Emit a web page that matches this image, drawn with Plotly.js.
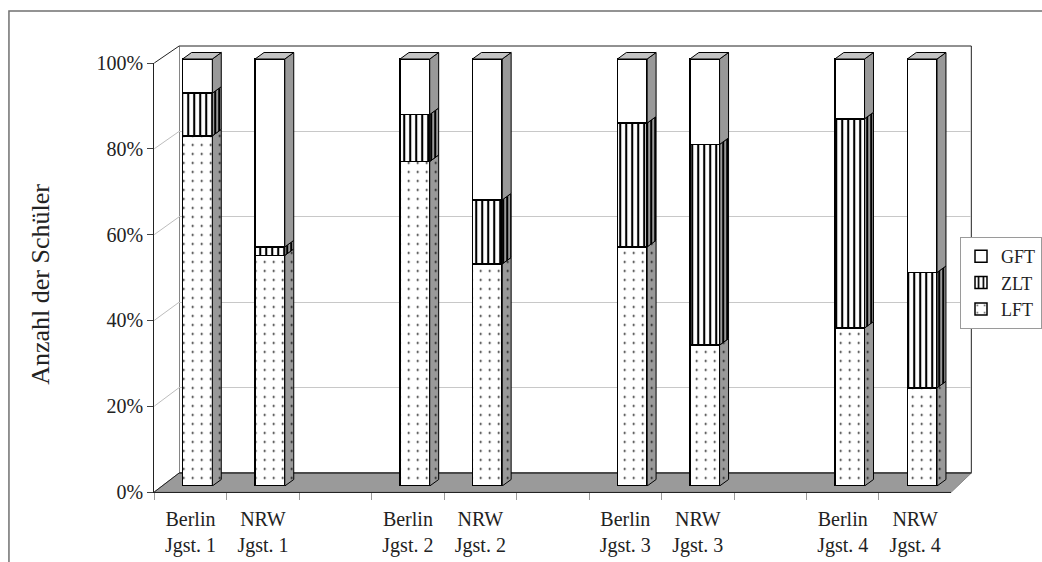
<!DOCTYPE html>
<html><head><meta charset="utf-8">
<script src="https://cdn.plot.ly/plotly-3.0.1.min.js"></script>
<style>html,body{margin:0;padding:0;background:#fff}</style>
</head><body><div id="chart" style="width:1042px;height:562px"></div>
<script>
// ---- data ----
const categories = ['Berlin<br>Jgst. 1','NRW<br>Jgst. 1','Berlin<br>Jgst. 2','NRW<br>Jgst. 2',
                    'Berlin<br>Jgst. 3','NRW<br>Jgst. 3','Berlin<br>Jgst. 4','NRW<br>Jgst. 4'];
const LFT = [82, 54, 76, 52, 56, 33, 37, 23];
const ZLT = [10,  2, 11, 15, 29, 47, 49, 27];
const GFT = [ 8, 44, 13, 33, 15, 20, 14, 50];
const yTicks = [0, 20, 40, 60, 80, 100];
const yTickText = ['0%', '20%', '40%', '60%', '80%', '100%'];

// ---- geometry helpers ----
const W = 1042, H = 562;
const px = x => x / W, py = y => 1 - y / H;
const FONT = 'Liberation Serif, Times New Roman, serif';
const slots = categories.map((_, i) => i + Math.floor(i / 2));
const axisCats = [];
categories.forEach((c, i) => {
  axisCats.push(c);
  if (i % 2 === 1 && i < categories.length - 1) axisCats.push('\u00a0'.repeat((i + 1) / 2));
});
const barW = 0.41;
const dx = 9 / 72.8, dy = 6.5 / 4.27;

const series = [
  {name: 'LFT', vals: LFT,
   pattern: {shape: '.', size: 9, solidity: 0.035, fgcolor: '#000', bgcolor: '#ffffff', fillmode: 'replace'},
   side: {shape: '.', size: 9, solidity: 0.035, fgcolor: '#000', bgcolor: '#999999', fillmode: 'replace'}},
  {name: 'ZLT', vals: ZLT,
   pattern: {shape: '|', size: 6, solidity: 0.35, fgcolor: '#000', bgcolor: '#ffffff', fillmode: 'replace'},
   side: {shape: '|', size: 4, solidity: 0.5, fgcolor: '#000', bgcolor: '#999999', fillmode: 'replace'}},
  {name: 'GFT', vals: GFT, pattern: null, side: null}
];

const traces = [];
// bars (front faces)
series.forEach(s => {
  const m = {color: '#ffffff', line: {color: '#000', width: 1.5}};
  if (s.pattern) m.pattern = s.pattern;
  traces.push({type: 'bar', name: s.name, x: slots, y: s.vals, width: barW,
    marker: m, xaxis: 'x3', yaxis: 'y3', hoverinfo: 'skip'});
});
// side faces
let base = categories.map(() => 0);
series.forEach(s => {
  const xs = [], ys = [];
  s.vals.forEach((v, i) => {
    const xr = slots[i] + barW / 2, y0 = base[i], y1 = base[i] + v;
    xs.push(xr, xr + dx, xr + dx, xr, xr, null);
    ys.push(y0, y0 + dy, y1 + dy, y1, y0, null);
  });
  const t = {type: 'scatter', mode: 'lines', x: xs, y: ys, fill: 'toself',
    fillcolor: '#999999', line: {color: '#000', width: 1}, showlegend: false,
    hoverinfo: 'skip', xaxis: 'x3', yaxis: 'y3'};
  if (s.side) t.fillpattern = s.side;
  traces.push(t);
  base = base.map((b, i) => b + s.vals[i]);
});
// top faces
(function () {
  const xs = [], ys = [];
  base.forEach((top, i) => {
    const xl = slots[i] - barW / 2, xr = slots[i] + barW / 2;
    xs.push(xl, xl + dx, xr + dx, xr, xl, null);
    ys.push(top, top + dy, top + dy, top, top, null);
  });
  traces.push({type: 'scatter', mode: 'lines', x: xs, y: ys, fill: 'toself',
    fillcolor: '#c4c4c4', line: {color: '#000', width: 1}, showlegend: false,
    hoverinfo: 'skip', xaxis: 'x3', yaxis: 'y3'});
})();
// helper traces to register the wall and label subplots
traces.push({type: 'scatter', mode: 'markers', x: [0.5], y: [50], marker: {opacity: 0},
  showlegend: false, hoverinfo: 'skip', xaxis: 'x', yaxis: 'y'});
traces.push({type: 'scatter', mode: 'markers', x: axisCats, y: axisCats.map(() => 0),
  marker: {opacity: 0}, showlegend: false, hoverinfo: 'skip', xaxis: 'x2', yaxis: 'y2'});

// ---- decoration shapes ----
const shapes = [];
// outer frame
shapes.push({type: 'rect', xref: 'paper', yref: 'paper', x0: px(9), y0: py(11), x1: px(1100), y1: py(620),
  line: {color: '#707070', width: 1.5}, fillcolor: 'rgba(0,0,0,0)', layer: 'below'});
// back wall
shapes.push({type: 'rect', xref: 'paper', yref: 'paper', x0: px(180), y0: py(473), x1: px(976), y1: py(46),
  line: {color: '#222', width: 1}, fillcolor: '#ffffff', layer: 'below'});
// left wall
shapes.push({type: 'path', xref: 'paper', yref: 'paper',
  path: `M${px(155)},${py(492)} L${px(180)},${py(473)} L${px(180)},${py(46)} L${px(155)},${py(63)} Z`,
  line: {width: 0}, fillcolor: '#ffffff', layer: 'below'});
// floor
shapes.push({type: 'path', xref: 'paper', yref: 'paper',
  path: `M${px(155)},${py(492)} L${px(956)},${py(492)} L${px(976)},${py(473)} L${px(180)},${py(473)} Z`,
  line: {color: '#888', width: 1}, fillcolor: '#9a9a9a', layer: 'below'});
// left wall grid lines
yTicks.forEach(v => {
  const fy = 492 - 4.29 * v, by = 473 - 4.27 * v;
  const edge = (v === 0 || v === 100);
  shapes.push({type: 'line', xref: 'paper', yref: 'paper', x0: px(155), y0: py(fy), x1: px(180), y1: py(by),
    line: {color: edge ? '#222' : '#bdbdbd', width: 1}, layer: 'below'});
});
// floor back edge
shapes.push({type: 'line', xref: 'paper', yref: 'paper', x0: px(180), y0: py(473), x1: px(976), y1: py(473),
  line: {color: '#333', width: 1.5}, layer: 'below'});

const layout = {
  width: W, height: H,
  margin: {l: 0, r: 0, t: 0, b: 0, pad: 0},
  paper_bgcolor: '#ffffff', plot_bgcolor: 'rgba(0,0,0,0)',
  barmode: 'stack',
  font: {family: FONT, size: 20, color: '#222'},
  showlegend: true,
  legend: {x: px(965), y: py(237), xanchor: 'left', yanchor: 'top', bgcolor: '#ffffff',
    bordercolor: '#9a9a9a', borderwidth: 1, traceorder: 'reversed',
    font: {family: FONT, size: 18, color: '#222'}},
  // back wall grid
  xaxis: {domain: [px(180), px(976)], range: [0, 1], anchor: 'y', showgrid: false, zeroline: false,
    showticklabels: false, ticks: '', showline: false, fixedrange: true},
  yaxis: {domain: [py(473), py(46)], range: [0, 100], anchor: 'x', tickvals: yTicks, showgrid: true,
    gridcolor: '#c8c8c8', gridwidth: 1, zeroline: false, showticklabels: false, ticks: '', showline: false},
  // front axis with labels
  xaxis2: {type: 'category', categoryorder: 'array', categoryarray: axisCats, domain: [px(155), px(956)],
    range: [-0.5, axisCats.length - 0.5], anchor: 'y2', tickson: 'boundaries', ticks: 'outside', ticklen: 7,
    tickcolor: '#9a9a9a', tickwidth: 1, showline: true, linecolor: '#222', linewidth: 1, showgrid: false,
    zeroline: false, ticklabelstandoff: 9, automargin: false,
    tickfont: {family: FONT, size: 20, color: '#222'}},
  yaxis2: {domain: [py(492), py(63)], range: [0, 100], anchor: 'x2', tickvals: yTicks, ticktext: yTickText,
    ticks: 'outside', ticklen: 6, tickcolor: '#444', tickwidth: 1, showline: true, linecolor: '#222',
    linewidth: 1, showgrid: false, zeroline: false, automargin: false,
    tickfont: {family: FONT, size: 20, color: '#222'}},
  // bars
  xaxis3: {domain: [px(162), px(963)], range: [-0.5, 10.5], anchor: 'y3', visible: false},
  yaxis3: {domain: [py(486), py(486 - 4.27 * 102)], range: [0, 102], anchor: 'x3', visible: false},
  shapes: shapes,
  annotations: [{text: 'Anzahl der Schüler', xref: 'paper', yref: 'paper', x: px(40), y: py(284),
    textangle: -90, showarrow: false, xanchor: 'center', yanchor: 'middle',
    font: {family: FONT, size: 26, color: '#222'}}]
};

Plotly.newPlot('chart', traces, layout, {displayModeBar: false, staticPlot: true});
</script></body></html>
